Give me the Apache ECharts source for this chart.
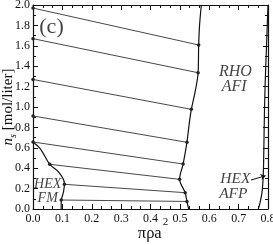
<!DOCTYPE html>
<html><head><meta charset="utf-8">
<script src="https://cdn.jsdelivr.net/npm/echarts@6/dist/echarts.min.js"></script>
<style>html,body{margin:0;padding:0;background:#fff}#c{width:273px;height:245px}</style>
</head><body><div id="c"></div>
<script>
// Tie lines (coexistence lines), left and right ends
const tieLeftX  = [0, 0, 0, 0, 0, 0.057, 0.107, 0.096];
const tieLeftN  = [1.97, 1.67, 1.27, 0.912, 0.657, 0.438, 0.242, 0.088];
const tieRightX = [0.564, 0.562, 0.539, 0.524, 0.511, 0.499, 0.518, 0.524];
const tieRightN = [1.608, 1.336, 0.977, 0.654, 0.441, 0.291, 0.16, 0.074];
// RHO/AFI phase boundary
const rhoX = [0.573, 0.567, 0.564, 0.562, 0.552, 0.539, 0.532, 0.524, 0.511, 0.499, 0.518, 0.524, 0.530];
const rhoN = [2.0, 1.8, 1.608, 1.336, 1.15, 0.977, 0.84, 0.654, 0.441, 0.291, 0.16, 0.074, 0.0];
// HEX FM boundary
const fmX = [0, 0.025, 0.057, 0.088, 0.107, 0.104, 0.097, 0.096, 0.096];
const fmN = [0.657, 0.59, 0.438, 0.36, 0.25, 0.17, 0.1, 0.088, 0.0];
// HEX AFP boundary
const afpX = [0.8, 0.795, 0.79, 0.787, 0.785, 0.783, 0.779, 0.772, 0.767];
const afpN = [2.0, 1.6, 1.2, 0.8, 0.45, 0.28, 0.15, 0.05, 0.0];
// annotations
const noteText = ['(c)', 'RHO', 'AFI', 'HEX', 'FM', 'HEX', 'AFP'];
const noteX = [0.063, 0.689, 0.685, 0.05, 0.05, 0.689, 0.682];
const noteN = [1.78, 1.35, 1.2, 0.245, 0.108, 0.29, 0.15];
const arrowFrom = [0.742, 0.284];
const arrowTo = [0.792, 0.326];
// axes
const xMin = 0, xMax = 0.8, xStep = 0.1;
const yMin = 0, yMax = 2.0, yStep = 0.2;

const FONT = 'Liberation Serif';
const noteStyle = [
  {fontSize: 22, fontStyle: 'normal'},
  {fontSize: 16, fontStyle: 'italic'},
  {fontSize: 16, fontStyle: 'italic'},
  {fontSize: 14, fontStyle: 'italic'},
  {fontSize: 14, fontStyle: 'italic'},
  {fontSize: 15.5, fontStyle: 'italic'},
  {fontSize: 15.5, fontStyle: 'italic'}
];

const zip = (a, b) => a.map((v, i) => [v, b[i]]);
const series = [];
tieLeftX.forEach((_, i) => {
  series.push({
    type: 'line', data: [[tieLeftX[i], tieLeftN[i]], [tieRightX[i], tieRightN[i]]],
    symbol: 'circle', symbolSize: 3.5, showSymbol: true,
    lineStyle: {color: '#333', width: 0.9}, itemStyle: {color: '#222'},
    silent: true, animation: false, z: 3
  });
});
[[rhoX, rhoN], [fmX, fmN], [afpX, afpN]].forEach(([x, n]) => {
  series.push({
    type: 'line', data: zip(x, n), smooth: 0.35, symbol: 'none',
    lineStyle: {color: '#111', width: 1.2}, silent: true, animation: false, z: 2
  });
});
series.push({
  type: 'scatter', symbolSize: 0, silent: true, animation: false,
  data: noteText.map((t, i) => ({
    value: [noteX[i], noteN[i]],
    label: {show: true, position: 'inside', formatter: t, color: '#111',
      fontFamily: FONT, fontSize: noteStyle[i].fontSize, fontStyle: noteStyle[i].fontStyle}
  }))
});
series.push({
  type: 'lines', coordinateSystem: 'cartesian2d', silent: true, animation: false,
  symbol: ['none', 'arrow'], symbolSize: 5,
  lineStyle: {color: '#111', width: 1, opacity: 1},
  data: [{coords: [arrowFrom, arrowTo]}]
});

const tickCommon = {inside: true, length: 5, lineStyle: {color: '#111', width: 1}};
const minorCommon = (n) => ({show: true, splitNumber: n, length: 3, lineStyle: {color: '#111', width: 1}});
const lineCommon = {show: true, onZero: false, lineStyle: {color: '#111', width: 1.2}};
const labelCommon = {fontFamily: FONT, fontSize: 12, color: '#111'};

const option = {
  backgroundColor: '#fff',
  animation: false,
  grid: {left: 33, right: 5, top: 5, bottom: 36, containLabel: false, outerBoundsMode: 'none'},
  xAxis: [{
    type: 'value', min: xMin, max: xMax, interval: xStep,
    axisLine: lineCommon, axisTick: tickCommon, minorTick: minorCommon(3),
    splitLine: {show: false},
    axisLabel: Object.assign({margin: 4, formatter: v => v.toFixed(1)}, labelCommon),
    name: '{t|πρa}{p|2}', nameLocation: 'middle', nameGap: 8, nameMoveOverlap: false,
    nameTextStyle: {rich: {
      t: {fontFamily: FONT, fontSize: 16.5, color: '#111', lineHeight: 33, padding: [0, 0, 0, 5]},
      p: {fontFamily: FONT, fontSize: 11, color: '#111', lineHeight: 12, verticalAlign: 'top', padding: [0, 0, 0, 1]}
    }}
  }, {
    type: 'value', position: 'top', min: xMin, max: xMax, interval: xStep,
    axisLine: lineCommon, axisTick: tickCommon, minorTick: minorCommon(3),
    splitLine: {show: false}, axisLabel: {show: false}
  }],
  yAxis: [{
    type: 'value', min: yMin, max: yMax, interval: yStep,
    axisLine: lineCommon, axisTick: tickCommon, minorTick: minorCommon(2),
    splitLine: {show: false},
    axisLabel: Object.assign({margin: 3, formatter: v => v.toFixed(1)}, labelCommon),
    name: '{n|n}{s|s}{t| [mol/liter]}', nameLocation: 'middle', nameRotate: 90, nameGap: 15,
    nameMoveOverlap: false,
    nameTextStyle: {rich: {
      n: {fontFamily: FONT, fontSize: 15, fontStyle: 'italic', color: '#111', lineHeight: 20},
      s: {fontFamily: FONT, fontSize: 10, fontStyle: 'italic', color: '#111', lineHeight: 10, verticalAlign: 'bottom'},
      t: {fontFamily: FONT, fontSize: 15, color: '#111', lineHeight: 20}
    }}
  }, {
    type: 'value', position: 'right', min: yMin, max: yMax, interval: yStep,
    axisLine: lineCommon, axisTick: tickCommon, minorTick: minorCommon(2),
    splitLine: {show: false}, axisLabel: {show: false}
  }],
  series: series
};
const chart = echarts.init(document.getElementById('c'), null, {renderer: 'canvas'});
chart.setOption(option);
</script></body></html>
